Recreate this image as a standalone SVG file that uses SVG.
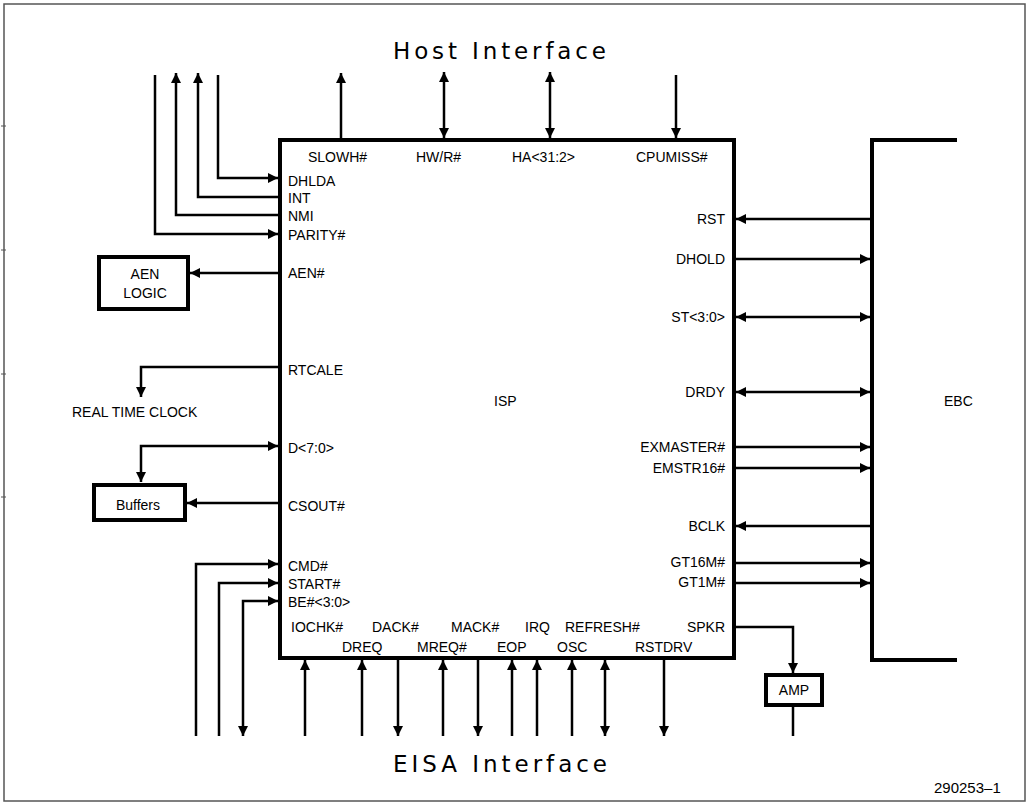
<svg xmlns="http://www.w3.org/2000/svg" width="1029" height="806" viewBox="0 0 1029 806">
<style>
.bg{fill:#fff}
.frame{fill:none;stroke:#555;stroke-width:1.5}
.box{fill:none;stroke:#000;stroke-width:4}
.bus{fill:none;stroke:#000;stroke-width:4}
.c{fill:none;stroke:#000;stroke-width:2.5}
.t{font-family:"Liberation Sans",Arial,sans-serif;font-size:14px;fill:#000}
.big{font-family:"DejaVu Sans","Liberation Sans",sans-serif;font-size:23px;fill:#000}
.r{text-anchor:end}
.m{text-anchor:middle}
.fig{font-family:"Liberation Sans",Arial,sans-serif;font-size:15px;fill:#000}
</style>
<defs>
<marker id="ah" viewBox="0 0 10 10" refX="10" refY="5" markerWidth="10" markerHeight="10" markerUnits="userSpaceOnUse" orient="auto-start-reverse">
<path d="M0,0 L10,5 L0,10 Z" fill="#000"/>
</marker>
</defs>
<rect class="bg" x="0" y="0" width="1029" height="806"/>
<rect class="frame" x="4" y="4" width="1021" height="797"/>
<g stroke="#555" stroke-width="1">
<line x1="1" y1="126" x2="6" y2="126"/>
<line x1="1" y1="250" x2="6" y2="250"/>
<line x1="1" y1="374" x2="6" y2="374"/>
<line x1="1" y1="497" x2="6" y2="497"/>
</g>

<text class="big" x="393" y="59" textLength="213" lengthAdjust="spacing">Host Interface</text>
<text class="big" x="393" y="772" textLength="214" lengthAdjust="spacing">EISA Interface</text>

<g id="isp">
<rect class="box" x="280" y="140" width="454" height="518"/>
<text class="t" x="494" y="406">ISP</text>
<text class="t" x="308" y="162">SLOWH#</text>
<text class="t" x="416" y="162">HW/R#</text>
<text class="t" x="512" y="162">HA&lt;31:2&gt;</text>
<text class="t" x="636" y="162">CPUMISS#</text>
<text class="t" x="288" y="186">DHLDA</text>
<text class="t" x="288" y="203">INT</text>
<text class="t" x="288" y="221">NMI</text>
<text class="t" x="288" y="240">PARITY#</text>
<text class="t" x="288" y="278">AEN#</text>
<text class="t" x="288" y="375">RTCALE</text>
<text class="t" x="288" y="453">D&lt;7:0&gt;</text>
<text class="t" x="288" y="511">CSOUT#</text>
<text class="t" x="288" y="571">CMD#</text>
<text class="t" x="288" y="589">START#</text>
<text class="t" x="288" y="607">BE#&lt;3:0&gt;</text>
<text class="t" x="291" y="632">IOCHK#</text>
<text class="t" x="372" y="632">DACK#</text>
<text class="t" x="451" y="632">MACK#</text>
<text class="t" x="525" y="632">IRQ</text>
<text class="t" x="565" y="632">REFRESH#</text>
<text class="t r" x="725" y="632">SPKR</text>
<text class="t" x="342" y="652">DREQ</text>
<text class="t" x="417" y="652">MREQ#</text>
<text class="t" x="497" y="652">EOP</text>
<text class="t" x="557" y="652">OSC</text>
<text class="t" x="635" y="652">RSTDRV</text>
<text class="t r" x="725" y="224">RST</text>
<text class="t r" x="725" y="264">DHOLD</text>
<text class="t r" x="725" y="322">ST&lt;3:0&gt;</text>
<text class="t r" x="725" y="397">DRDY</text>
<text class="t r" x="725" y="452">EXMASTER#</text>
<text class="t r" x="725" y="473">EMSTR16#</text>
<text class="t r" x="725" y="531">BCLK</text>
<text class="t r" x="725" y="567">GT16M#</text>
<text class="t r" x="725" y="587">GT1M#</text>
</g>

<g id="ebc">
<path class="bus" d="M957,140 H872 V660 H957"/>
<text class="t" x="944" y="406">EBC</text>
</g>

<g id="aen-logic">
<rect class="box" x="99" y="257" width="89" height="52"/>
<text class="t m" x="145" y="279">AEN</text>
<text class="t m" x="145" y="298">LOGIC</text>
</g>

<g id="rtc">
<text class="t" x="72" y="417">REAL TIME CLOCK</text>
</g>

<g id="buffers">
<rect class="box" x="94" y="485" width="91" height="35"/>
<text class="t m" x="138" y="510">Buffers</text>
</g>

<g id="amp">
<rect class="box" x="766" y="675" width="56" height="30"/>
<text class="t m" x="794" y="695">AMP</text>
</g>

<g id="connectors">
<path class="c" d="M155,75 V234 H278" marker-end="url(#ah)"/>
<path class="c" d="M280,215 H176 V73" marker-end="url(#ah)"/>
<path class="c" d="M280,197 H198 V73" marker-end="url(#ah)"/>
<path class="c" d="M218,75 V178 H278" marker-end="url(#ah)"/>
<path class="c" d="M341,140 V73" marker-end="url(#ah)"/>
<path class="c" d="M444,138 V72" marker-start="url(#ah)" marker-end="url(#ah)"/>
<path class="c" d="M550,138 V72" marker-start="url(#ah)" marker-end="url(#ah)"/>
<path class="c" d="M676,75 V138" marker-end="url(#ah)"/>

<path class="c" d="M280,273 H190" marker-end="url(#ah)"/>
<path class="c" d="M280,367 H141 V397" marker-end="url(#ah)"/>
<path class="c" d="M141,482 V446 H278" marker-start="url(#ah)" marker-end="url(#ah)"/>
<path class="c" d="M280,503 H187" marker-end="url(#ah)"/>
<path class="c" d="M196,736 V564 H278" marker-end="url(#ah)"/>
<path class="c" d="M219,736 V583 H278" marker-end="url(#ah)"/>
<path class="c" d="M243,736 V601 H278" marker-start="url(#ah)" marker-end="url(#ah)"/>

<path class="c" d="M305,736 V660" marker-end="url(#ah)"/>
<path class="c" d="M362,736 V660" marker-end="url(#ah)"/>
<path class="c" d="M398,658 V736" marker-end="url(#ah)"/>
<path class="c" d="M443,736 V660" marker-end="url(#ah)"/>
<path class="c" d="M478,658 V736" marker-end="url(#ah)"/>
<path class="c" d="M512,736 V660" marker-end="url(#ah)"/>
<path class="c" d="M537,736 V660" marker-end="url(#ah)"/>
<path class="c" d="M572,736 V660" marker-end="url(#ah)"/>
<path class="c" d="M605,736 V660" marker-start="url(#ah)" marker-end="url(#ah)"/>
<path class="c" d="M664,658 V736" marker-end="url(#ah)"/>
<path class="c" d="M734,627 H793 V673" marker-end="url(#ah)"/>
<path class="c" d="M793,707 V736"/>

<path class="c" d="M870,219 H736" marker-end="url(#ah)"/>
<path class="c" d="M736,259 H870" marker-end="url(#ah)"/>
<path class="c" d="M736,317 H870" marker-start="url(#ah)" marker-end="url(#ah)"/>
<path class="c" d="M736,392 H870" marker-start="url(#ah)" marker-end="url(#ah)"/>
<path class="c" d="M736,447 H870" stroke-width="3" marker-end="url(#ah)"/>
<path class="c" d="M736,468 H870" marker-end="url(#ah)"/>
<path class="c" d="M870,526 H736" marker-end="url(#ah)"/>
<path class="c" d="M736,563 H870" marker-end="url(#ah)"/>
<path class="c" d="M736,583 H870" marker-end="url(#ah)"/>
</g>

<text class="fig" x="934" y="793">290253–1</text>
</svg>
